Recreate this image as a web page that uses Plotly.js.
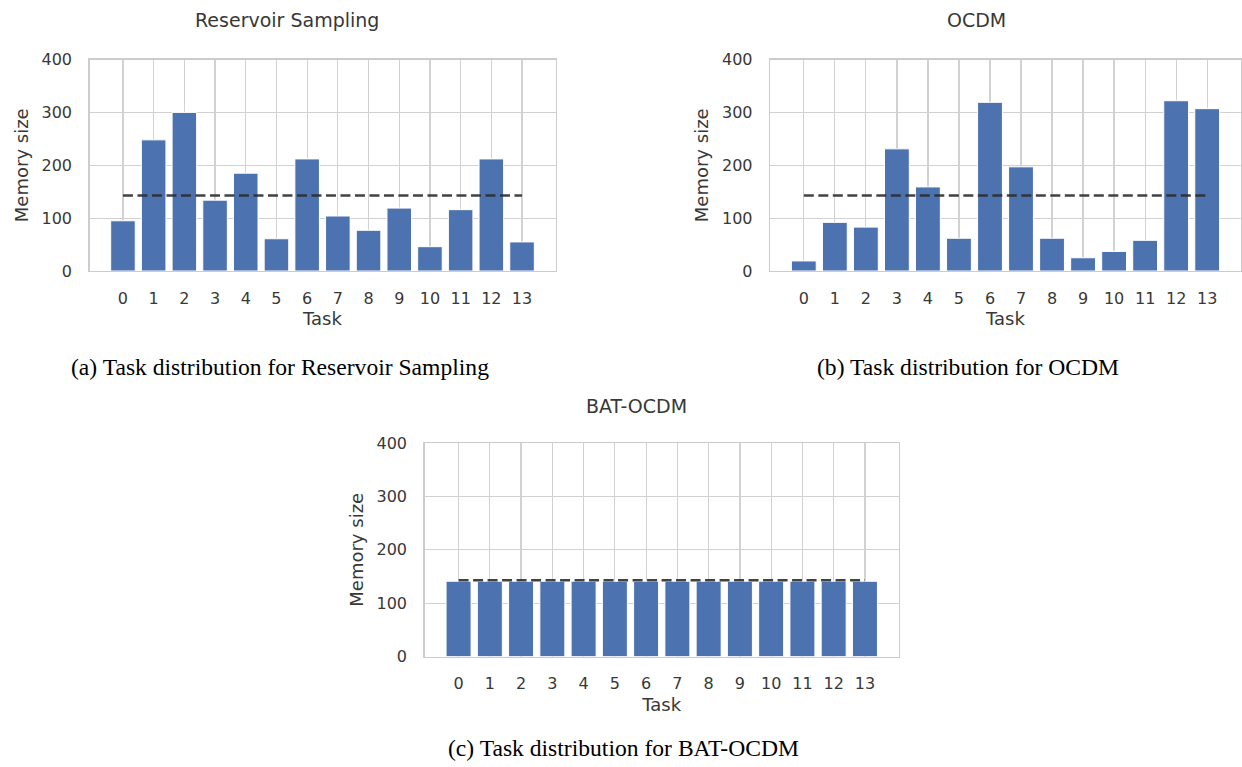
<!DOCTYPE html>
<html>
<head>
<meta charset="utf-8">
<script src="https://cdn.plot.ly/plotly-3.0.1.min.js"></script>
<style>
html,body{margin:0;padding:0;background:#fff;}
#chart{width:1242px;height:767px;}
</style>
</head>
<body>
<div id="chart"></div>
<script>
// ---- data ----
const tasks = [0,1,2,3,4,5,6,7,8,9,10,11,12,13];
const tickLabels = ["0","1","2","3","4","5","6","7","8","9","10","11","12","13"];
const reservoirSizes = [95, 248, 300, 134, 185, 61, 212, 104, 77, 119, 46, 116, 212, 55];
const ocdmSizes = [19, 92, 83, 231, 159, 62, 319, 197, 62, 25, 37, 58, 322, 307];
const batOcdmSizes = [141, 141, 141, 141, 141, 141, 141, 141, 141, 141, 141, 141, 141, 141];
const meanX = [0, 13];
const meanSize = [142.9, 142.9];
const panelTitles = ["Reservoir Sampling", "OCDM", "BAT-OCDM"];
const captions = ["(a) Task distribution for Reservoir Sampling", "(b) Task distribution for OCDM", "(c) Task distribution for BAT-OCDM"];
const yTicks = [0, 100, 200, 300, 400];

// ---- layout helpers ----
const W = 1242, H = 767;
const px = v => v / W;
const py = v => 1 - v / H;
const BAR = '#4C72B0';
const TXT = '#383838';
const GRID = '#d2d2d2';
const FONT = 'DejaVu Sans, sans-serif';

function bars(vals, xa, ya) {
  return {type: 'bar', x: tasks, y: vals, xaxis: xa, yaxis: ya, width: 0.8,
    marker: {color: BAR, line: {color: '#ffffff', width: 1}}, hoverinfo: 'x+y'};
}
function meanLine(xa, ya) {
  return {type: 'scatter', mode: 'lines', x: meanX, y: meanSize, xaxis: xa, yaxis: ya,
    line: {color: 'rgba(45,45,45,0.9)', width: 2.6, dash: '10px,4.5px'}, hoverinfo: 'y'};
}

const data = [
  bars(reservoirSizes, 'x', 'y'), meanLine('x', 'y'),
  bars(ocdmSizes, 'x2', 'y2'), meanLine('x2', 'y2'),
  bars(batOcdmSizes, 'x3', 'y3'), meanLine('x3', 'y3')
];

function xaxis(d0, d1, anchor) {
  return {domain: [px(d0), px(d1)], anchor: anchor, range: [-1.09, 14.09],
    tickmode: 'array', tickvals: tasks, ticktext: tickLabels,
    showgrid: true, gridcolor: GRID, gridwidth: 1.2, zeroline: false,
    showline: true, mirror: true, linecolor: '#cccccc', linewidth: 1.3,
    ticks: '', ticklabelstandoff: 12,
    tickfont: {family: FONT, size: 16, color: TXT},
    title: {text: 'Task', standoff: 6, font: {family: FONT, size: 18, color: TXT}},
    automargin: false, fixedrange: true};
}
function yaxis(d0, d1, anchor) {
  return {domain: [py(d1), py(d0)], anchor: anchor, range: [0, 400],
    tickmode: 'array', tickvals: yTicks,
    showgrid: true, gridcolor: GRID, gridwidth: 1.2, zeroline: false,
    showline: true, mirror: true, linecolor: '#cccccc', linewidth: 1.3,
    ticks: '', ticklabelstandoff: 13,
    tickfont: {family: FONT, size: 16, color: TXT},
    title: {text: 'Memory size', standoff: 8, font: {family: FONT, size: 18, color: TXT}},
    automargin: false, fixedrange: true};
}

function titleAnn(text, cx, cy) {
  return {text: text, xref: 'paper', yref: 'paper', x: px(cx), y: py(cy),
    xanchor: 'center', yanchor: 'middle', showarrow: false,
    font: {family: FONT, size: 19, color: TXT}};
}
function capAnn(text, cx, cy) {
  return {text: text, xref: 'paper', yref: 'paper', x: px(cx), y: py(cy),
    xanchor: 'center', yanchor: 'middle', showarrow: false,
    font: {family: 'Liberation Serif, Times New Roman, serif', size: 23.6, color: '#000000'}};
}

const layout = {
  width: W, height: H,
  margin: {l: 0, r: 0, t: 0, b: 0, pad: 0},
  paper_bgcolor: '#ffffff', plot_bgcolor: '#ffffff',
  showlegend: false, bargap: 0.2,
  xaxis: xaxis(89.5, 555.5, 'y'),
  yaxis: yaxis(59.5, 271, 'x'),
  xaxis2: xaxis(770, 1241, 'y2'),
  yaxis2: yaxis(59.5, 271, 'x2'),
  xaxis3: xaxis(424.5, 899, 'y3'),
  yaxis3: yaxis(443, 656.5, 'x3'),
  annotations: [
    titleAnn(panelTitles[0], 287, 20),
    titleAnn(panelTitles[1], 976, 20),
    titleAnn(panelTitles[2], 637, 406),
    capAnn(captions[0], 280, 367),
    capAnn(captions[1], 967.5, 367),
    capAnn(captions[2], 623.5, 748)
  ]
};

Plotly.newPlot('chart', data, layout, {displayModeBar: false, staticPlot: true});
</script>
</body>
</html>
